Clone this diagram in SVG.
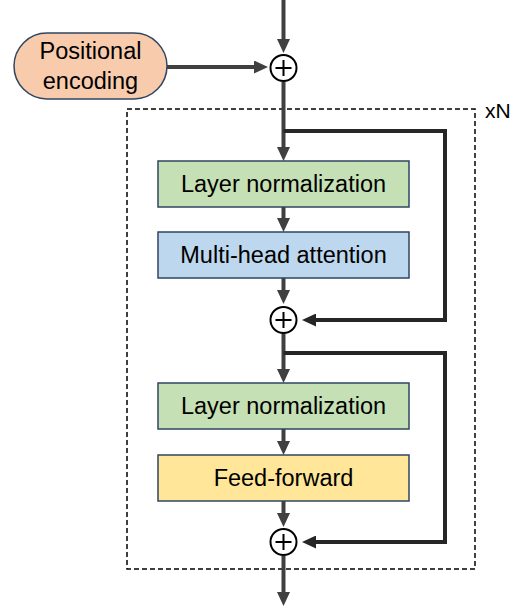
<svg xmlns="http://www.w3.org/2000/svg" width="529" height="609" viewBox="0 0 529 609">
<defs>
<style>
.box{stroke:#2F4562;stroke-width:1.5}
.lbl{font-family:"Liberation Sans",Arial,sans-serif;font-size:23.5px;fill:#000;text-anchor:middle}
.main{fill:none;stroke:#404040;stroke-width:4}
.skip{fill:none;stroke:#262626;stroke-width:4}
.sum circle{fill:#fff;stroke:#000;stroke-width:2}
.sum path{stroke:#000;stroke-width:2;fill:none}
</style>
<marker id="ah" viewBox="0 0 14 13" refX="6" refY="6.5" markerWidth="14" markerHeight="13" markerUnits="userSpaceOnUse" orient="auto">
<path d="M0,0 L14,6.5 L0,13 z" fill="#404040"/>
</marker>
<marker id="ahk" viewBox="0 0 14 13" refX="6" refY="6.5" markerWidth="14" markerHeight="13" markerUnits="userSpaceOnUse" orient="auto">
<path d="M0,0 L14,6.5 L0,13 z" fill="#262626"/>
</marker>
</defs>
<rect id="block" x="127" y="109" width="348" height="460" fill="none" stroke="#000" stroke-width="1.5" stroke-dasharray="5,3"/>
<text id="xN" x="485" y="118" font-family="Liberation Sans,Arial,sans-serif" font-size="21" fill="#000">xN</text>
<g id="connectors">
<path class="main" d="M283.5,0 V45" marker-end="url(#ah)"/>
<path class="main" d="M167,67 H260" marker-end="url(#ah)"/>
<path class="main" d="M283.5,82 V153" marker-end="url(#ah)"/>
<path class="main" d="M283.5,207 V224" marker-end="url(#ah)"/>
<path class="main" d="M283.5,278 V296" marker-end="url(#ah)"/>
<path class="skip" d="M283.5,131 H445 V320 H310" marker-end="url(#ahk)"/>
<path class="main" d="M283.5,334 V375" marker-end="url(#ah)"/>
<path class="main" d="M283.5,429 V447" marker-end="url(#ah)"/>
<path class="main" d="M283.5,501 V519" marker-end="url(#ah)"/>
<path class="skip" d="M283.5,353 H445 V542 H310" marker-end="url(#ahk)"/>
<path class="main" d="M283.5,556 V598" marker-end="url(#ah)"/>
</g>
<g id="pos-enc">
<rect class="box" x="14" y="33" width="153" height="66" rx="33" fill="#F8CBAD"/>
<text class="lbl" x="90.5" y="59">Positional</text>
<text class="lbl" x="90.5" y="89">encoding</text>
</g>
<g id="add1" class="sum">
<circle cx="283.5" cy="68" r="13"/>
<path d="M275.5,68 H291.5 M283.5,60 V76"/>
</g>
<g id="ln1">
<rect class="box" x="158" y="161" width="251" height="46" fill="#C5E0B4"/>
<text class="lbl" x="283.5" y="192">Layer normalization</text>
</g>
<g id="mha">
<rect class="box" x="158" y="232" width="251" height="46" fill="#BDD7EE"/>
<text class="lbl" x="283.5" y="263">Multi-head attention</text>
</g>
<g id="add2" class="sum">
<circle cx="283.5" cy="320" r="13"/>
<path d="M275.5,320 H291.5 M283.5,312 V328"/>
</g>
<g id="ln2">
<rect class="box" x="158" y="383" width="251" height="46" fill="#C5E0B4"/>
<text class="lbl" x="283.5" y="414">Layer normalization</text>
</g>
<g id="ff">
<rect class="box" x="158" y="455" width="251" height="46" fill="#FFE699"/>
<text class="lbl" x="283.5" y="486">Feed-forward</text>
</g>
<g id="add3" class="sum">
<circle cx="283.5" cy="542" r="13"/>
<path d="M275.5,542 H291.5 M283.5,534 V550"/>
</g>
</svg>
